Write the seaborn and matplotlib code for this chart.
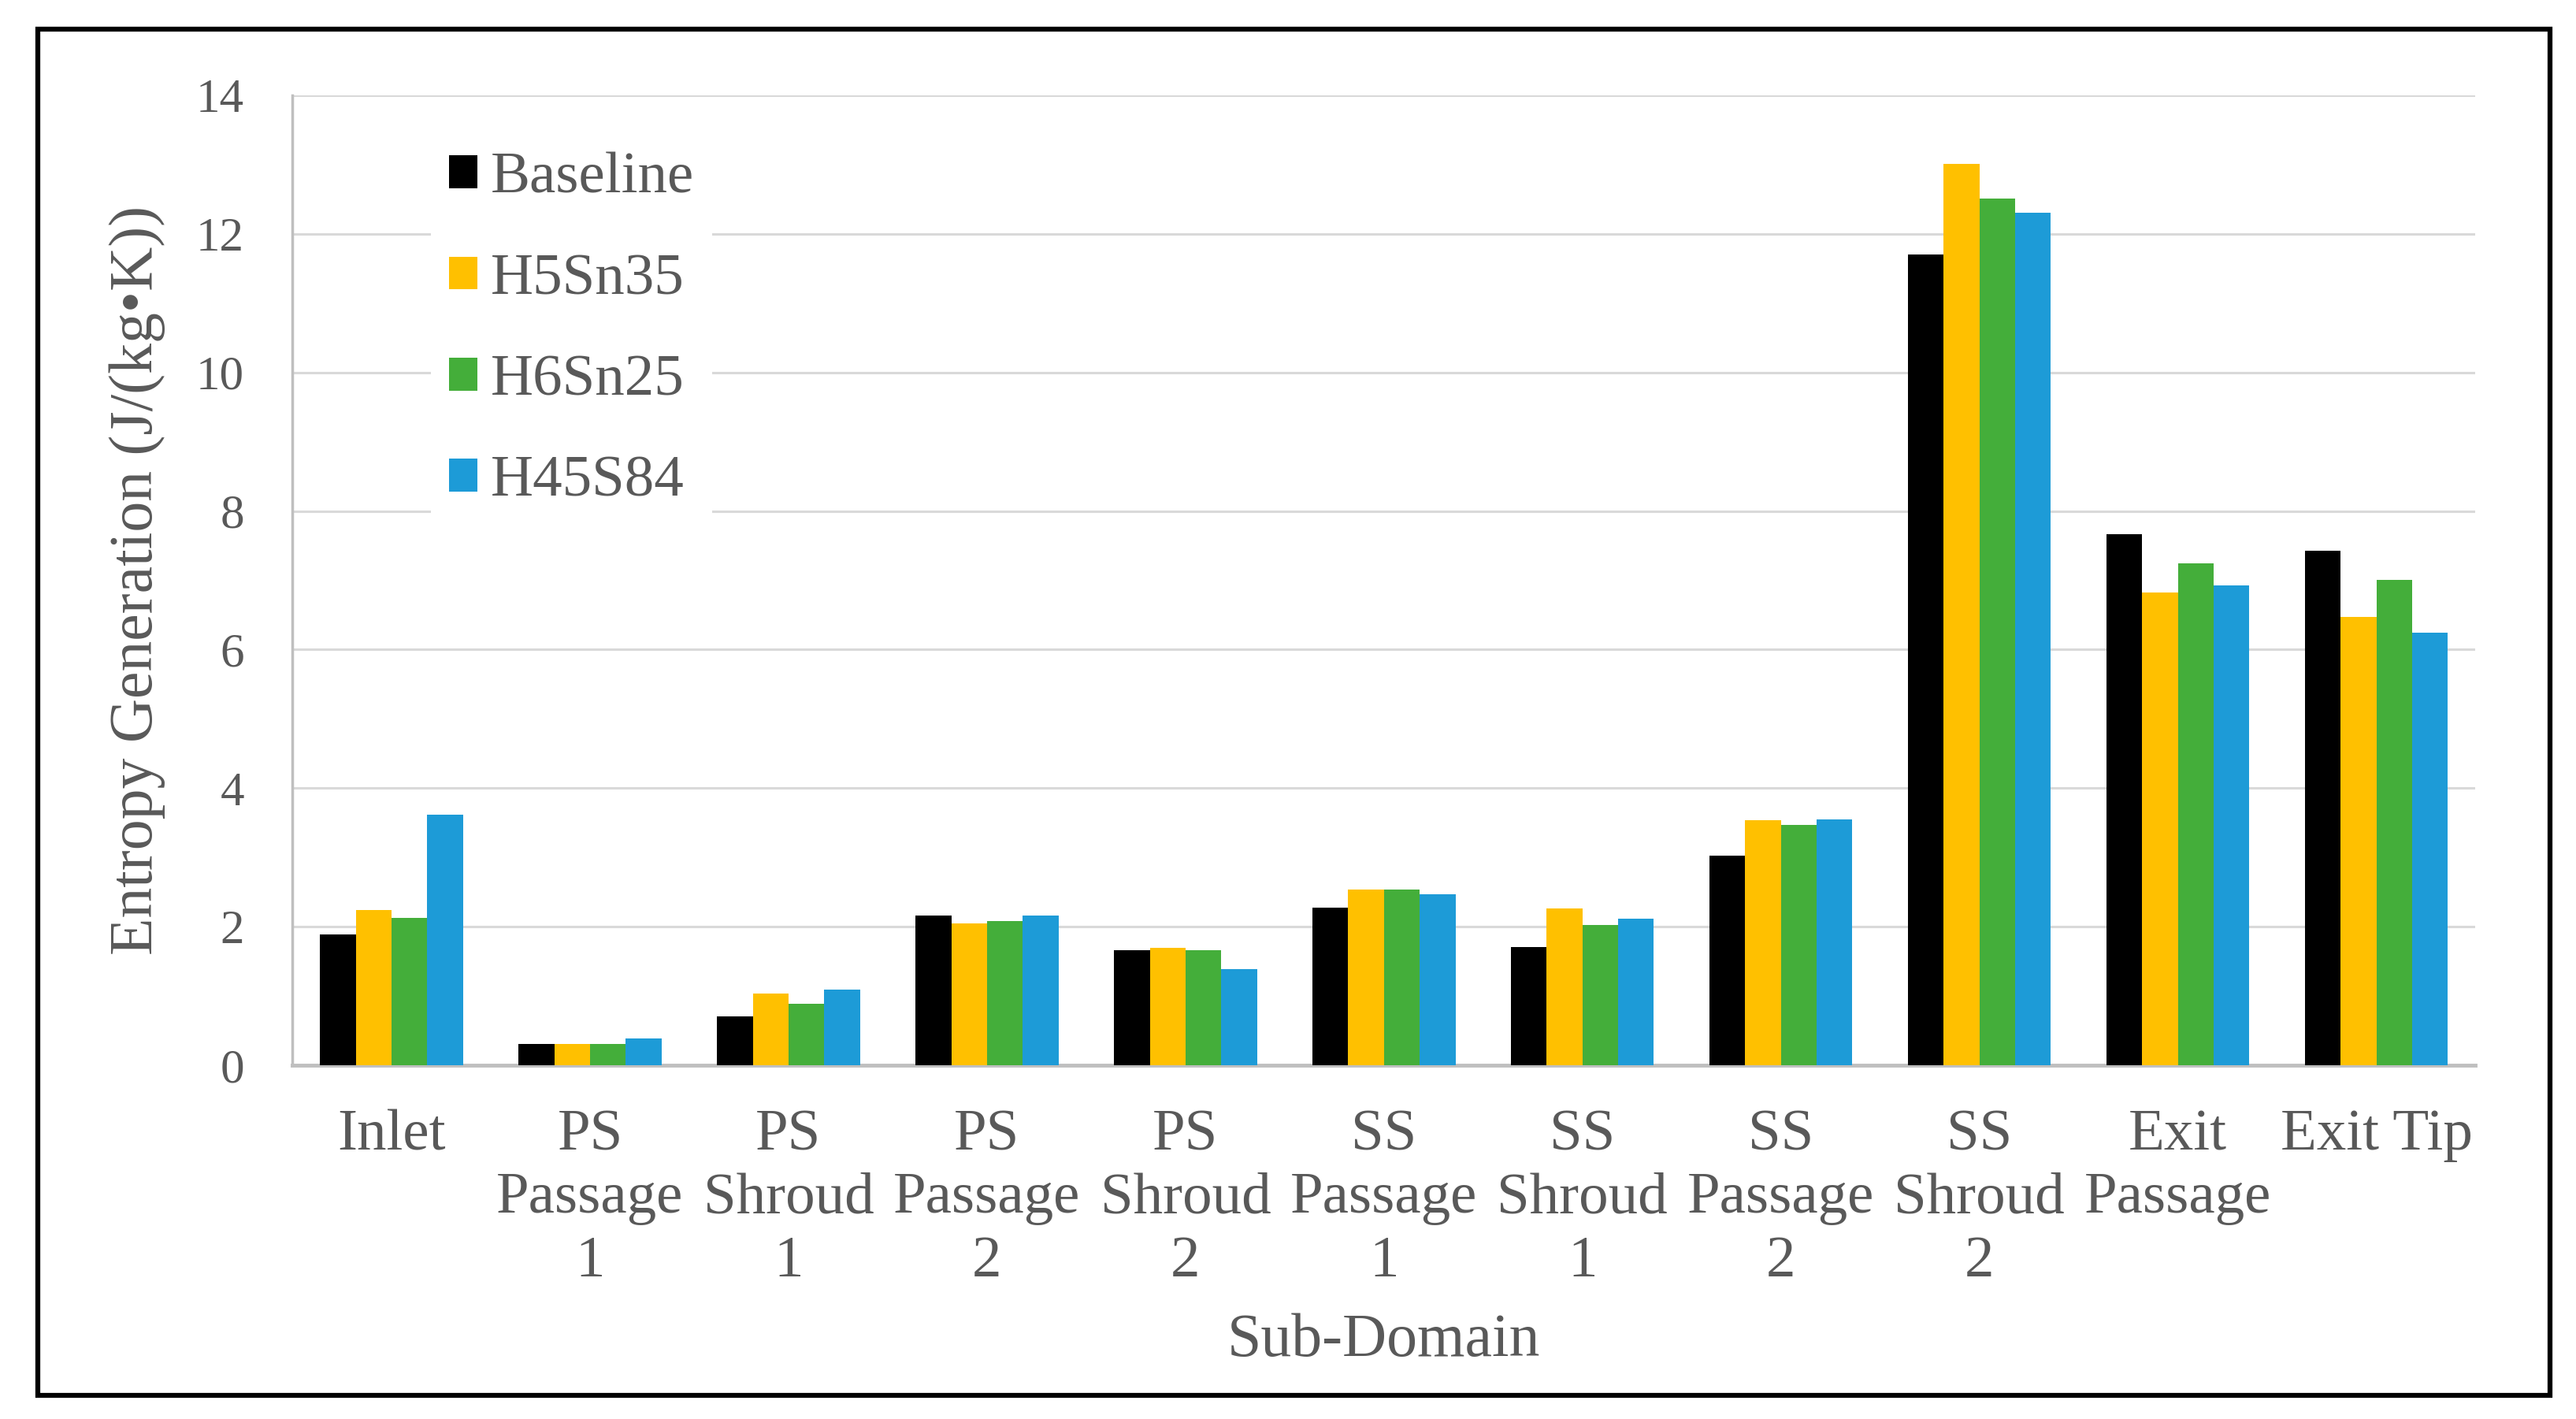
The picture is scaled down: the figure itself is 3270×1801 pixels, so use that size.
import pandas as pd
import seaborn as sns
import matplotlib.pyplot as plt
from matplotlib.patches import Rectangle

# ---------------------------------------------------------
# data
# ---------------------------------------------------------
domains = ['Inlet', 'PS\nPassage\n1', 'PS\nShroud\n1', 'PS\nPassage\n2', 'PS\nShroud\n2',
           'SS\nPassage\n1', 'SS\nShroud\n1', 'SS\nPassage\n2', 'SS\nShroud\n2',
           'Exit\nPassage', 'Exit Tip']
cases = ['Baseline', 'H5Sn35', 'H6Sn25', 'H45S84']

baseline = [1.89, 0.31, 0.70, 2.16, 1.66, 2.27, 1.71, 3.02, 11.70, 7.66, 7.43]
h5sn35 = [2.24, 0.31, 1.04, 2.05, 1.70, 2.54, 2.26, 3.54, 13.01, 6.82, 6.47]
h6sn25 = [2.13, 0.31, 0.89, 2.08, 1.66, 2.54, 2.02, 3.47, 12.51, 7.24, 7.01]
h45s84 = [3.62, 0.39, 1.09, 2.16, 1.39, 2.47, 2.11, 3.55, 12.31, 6.93, 6.24]

colors = ['#000000', '#FFC000', '#44AE3A', '#1D9BD7']

df = pd.DataFrame({'Baseline': baseline, 'H5Sn35': h5sn35,
                   'H6Sn25': h6sn25, 'H45S84': h45s84}, index=domains)
df_long = df.reset_index(names='Sub-Domain').melt(id_vars='Sub-Domain', var_name='Case',
                                                   value_name='Entropy')

# ---------------------------------------------------------
# style
# ---------------------------------------------------------
sns.set_style('white')
plt.rcParams['font.family'] = ['Liberation Serif', 'DejaVu Serif']
txt = '#595959'

fig = plt.figure(figsize=(32.7, 18.01), dpi=100)
ax = fig.add_axes([0.1135, 0.2493, 0.8475, 0.6835])

sns.barplot(data=df_long, x='Sub-Domain', y='Entropy', hue='Case', order=domains,
            hue_order=cases, palette=colors, saturation=1, width=0.72,
            linewidth=0, ax=ax, zorder=3)

ax.set_ylim(0, 14)
ax.set_yticks(range(0, 15, 2))
ax.yaxis.grid(True, color='#D9D9D9', linewidth=2.2, zorder=0)
ax.set_axisbelow(True)

for s in ['top', 'right']:
    ax.spines[s].set_visible(False)
ax.spines['left'].set_color('#BFBFBF')
ax.spines['left'].set_linewidth(2.5)
ax.spines['bottom'].set_color('#BFBFBF')
ax.spines['bottom'].set_linewidth(3.5)

ax.tick_params(axis='y', length=0, pad=44, labelsize=44, labelcolor=txt)
ax.tick_params(axis='x', length=0, pad=40, labelsize=54, labelcolor=txt)
for lab in ax.get_xticklabels():
    lab.set_linespacing(1.25)

ax.set_ylabel('Entropy Generation (J/(kg•K))', fontsize=56, color=txt, labelpad=28)
ax.set_xlabel('Sub-Domain', fontsize=56, color=txt, labelpad=22)

leg = ax.legend(loc='upper left', bbox_to_anchor=(0.05, 0.99), frameon=True,
                facecolor='white', edgecolor='none', framealpha=1, fancybox=False,
                fontsize=54, handlelength=0.48, handleheight=0.48, handletextpad=0.23,
                labelspacing=0.81, borderpad=0.3)
for t in leg.get_texts():
    t.set_color(txt)

# outer black frame
fig.patches.append(Rectangle((0.0147, 0.0167), 0.9753, 0.9628, transform=fig.transFigure,
                             fill=False, edgecolor='black', linewidth=4.5))

plt.savefig('out.png', dpi=100)
